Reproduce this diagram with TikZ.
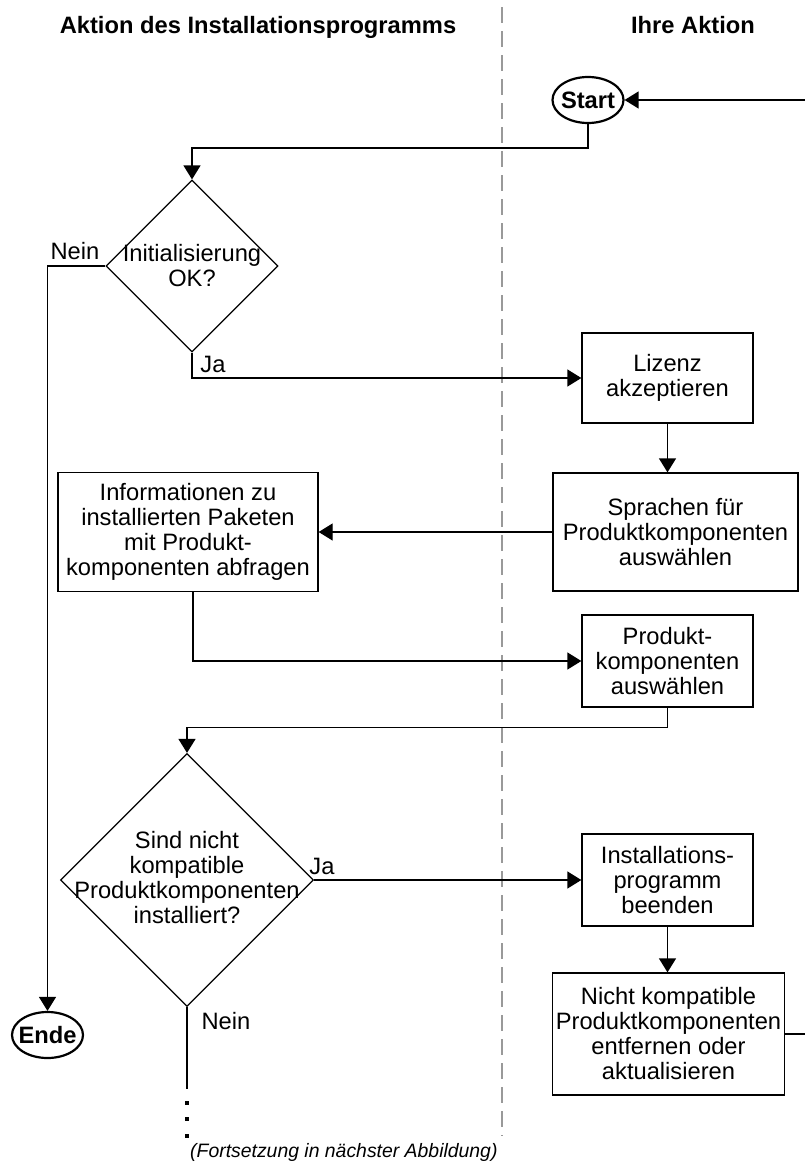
\documentclass[tikz,border=0pt]{standalone}
\usepackage{fontspec}
\setmainfont{Liberation Sans}
\usetikzlibrary{shapes.geometric,arrows.meta}

\begin{document}
\begin{tikzpicture}[x=1pt,y=-1pt,
  txt/.style={font=\fontsize{23.7}{25}\selectfont, align=center, inner sep=0pt},
  stepbox/.style={txt, draw, line width=1.3pt, rectangle},
  decision/.style={draw, diamond, line width=1.2pt, inner sep=0pt, aspect=1},
  terminal/.style={draw, ellipse, line width=2.2pt, inner sep=0pt,
    minimum width=71pt, minimum height=46pt},
  conn/.style={line width=1.3pt},
  arr/.style={conn, -{Triangle[length=14pt,width=17pt]}},
  lane/.style={draw=black!40, line width=2.5pt, dash pattern=on 16pt off 8pt},
  head/.style={font=\fontsize{23.7}{25}\selectfont\bfseries, inner sep=0pt, anchor=base},
  lbl/.style={font=\fontsize{23.7}{25}\selectfont, inner sep=0pt}
]
\useasboundingbox (0,0) rectangle (805,1162);

% swimlane divider and headings
\coordinate (laneTop) at (502,7);
\coordinate (laneBot) at (502,1136);
\draw[lane] (laneTop) -- (laneBot);
\node[head] (h1) at (258,33) {Aktion des Installationsprogramms};
\node[head] (h2) at (693,33) {Ihre Aktion};

% terminals
\node[terminal, label={[font=\fontsize{23.7}{25}\selectfont\bfseries]center:Start}] (start) at (588,100) {};
\node[terminal, label={[font=\fontsize{23.7}{25}\selectfont\bfseries]center:Ende}] (ende) at (47.5,1035) {};

% decisions
\node[decision, minimum width=172pt, minimum height=172pt] (d1) at (192,266) {};
\node[txt] (d1t) at (192,266) {Initialisierung\\OK?};
\node[decision, minimum width=253pt, minimum height=253pt] (d2) at (187,880) {};
\node[txt] (d2t) at (187,878) {Sind nicht\\kompatible\\Produktkomponenten\\installiert?};

% process boxes
\node[stepbox, minimum width=171pt, minimum height=90pt] (lizenz) at (667.5,378) {Lizenz\\akzeptieren};
\node[stepbox, minimum width=245pt, minimum height=118pt] (sprachen) at (675.5,532) {Sprachen für\\Produktkomponenten\\auswählen};
\node[stepbox, minimum width=260pt, minimum height=119pt] (info) at (188,532) {Informationen zu\\installierten Paketen\\mit Produkt-\\komponenten abfragen};
\node[stepbox, minimum width=171pt, minimum height=92pt] (prod) at (667.5,661) {Produkt-\\komponenten\\auswählen};
\node[stepbox, minimum width=171pt, minimum height=92pt] (inst) at (667.5,880) {Installations-\\programm\\beenden};
\node[stepbox, minimum width=232pt, minimum height=122pt] (nicht) at (668.5,1034) {Nicht kompatible\\Produktkomponenten\\entfernen oder\\aktualisieren};

% free ends at the page edge and the continuation
\coordinate (loopIn) at (805,100);
\coordinate (loopOut) at (805,1034);
\coordinate (cont) at (187,1089);

% connectors
\draw[arr] (loopIn) -- (start.east);
\draw[arr] (start.south) -- ++(0,24) -| (d1.north);
\draw[arr] (d1.west) -| (ende.north);
\draw[arr] (d1.south) |- (lizenz.west);
\draw[arr] (lizenz.south) -- (lizenz.south |- sprachen.north);
\draw[arr] (sprachen.west) -- (info.east);
\draw[arr] ([xshift=5pt]info.south) |- (prod.west);
\draw[arr] (prod.south) -- ++(0,20) -| (d2.north);
\draw[arr] (d2.east) -- (inst.west);
\draw[arr] (inst.south) -- (inst.south |- nicht.north);
\draw[conn] (nicht.east) -- (loopOut);
\draw[conn] (d2.south) -- (cont);

% continuation dots
\foreach \yy in {1103,1119,1136}
  \fill (185,\yy-2) rectangle (189,\yy+2);

% branch labels
\node[lbl] (n1) at (75,251) {Nein};
\node[lbl] (j1) at (213,364) {Ja};
\node[lbl] (j2) at (322,866) {Ja};
\node[lbl] (n2) at (226,1021) {Nein};

% continuation note
\node[font=\fontsize{19.4}{22}\selectfont\itshape, inner sep=0pt, anchor=base west] (note) at (190,1157) {(Fortsetzung in nächster Abbildung)};
\end{tikzpicture}
\end{document}
